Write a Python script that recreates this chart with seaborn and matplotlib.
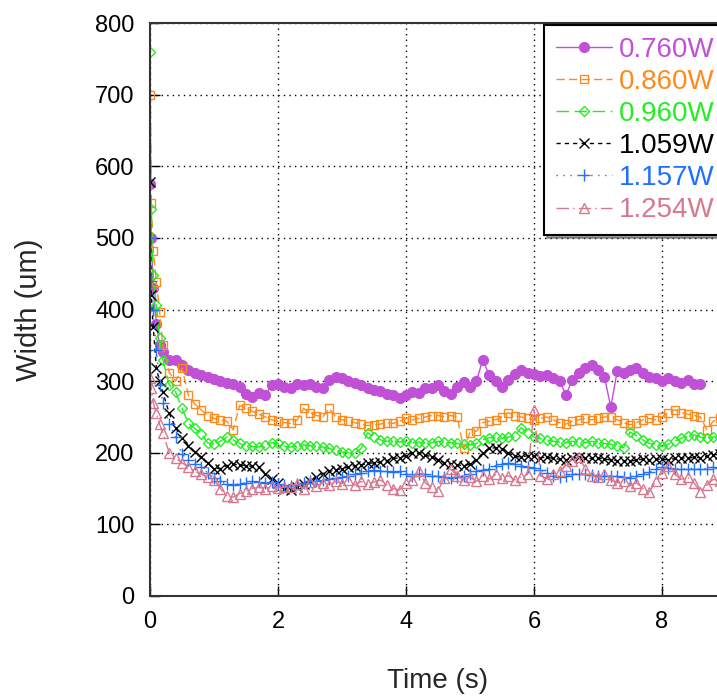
import numpy as np
import matplotlib
matplotlib.use("Agg")
import matplotlib.pyplot as plt
import seaborn as sns

# time stamps (s): a few early samples, then every 0.1 s
T_EARLY = [0.0, 0.02, 0.05, 0.1, 0.15, 0.2, 0.3]
T_MAIN = np.round(np.arange(0.4, 8.95, 0.1), 1)

LABELS = ["0.760W", "0.860W", "0.960W", "1.059W", "1.157W", "1.254W"]
COLORS = ["#c050d6", "#ff8a1c", "#22ee22", "#000000", "#2070ff", "#d8788f"]

# widths (um)
w_0760 = [575, 500, 430, 380, 350, 340, 330,
          330, 322, 316, 312, 308, 306, 303, 300, 298, 296,
          292, 282, 278, 284, 280, 295, 296, 292, 290, 296,
          294, 296, 292, 290, 302, 306, 304, 300, 298, 294,
          290, 288, 286, 282, 280, 276, 280, 285, 284, 290,
          290, 294, 286, 282, 292, 299, 292, 300, 330, 308,
          300, 292, 301, 310, 316, 312, 310, 307, 308, 304,
          300, 281, 302, 312, 318, 322, 316, 306, 264, 314,
          312, 316, 318, 312, 306, 304, 300, 304, 300, 298,
          302, 296, 296]
w_0860 = [700, 548, 482, 438, 397, 350, 312,
          300, 318, 280, 268, 260, 252, 248, 246, 244, 232,
          266, 262, 258, 254, 250, 246, 244, 242, 241, 246,
          262, 256, 252, 250, 262, 250, 246, 244, 242, 240,
          238, 239, 240, 242, 241, 244, 248, 246, 248, 250,
          252, 252, 250, 252, 250, 206, 228, 230, 242, 244,
          246, 250, 256, 252, 250, 248, 246, 248, 250, 246,
          242, 240, 244, 246, 248, 246, 248, 250, 250, 246,
          242, 239, 242, 246, 248, 246, 250, 256, 260, 256,
          254, 252, 250, 232, 244, 248]
w_0960 = [760, 540, 448, 406, 360, 330, 295,
          285, 262, 241, 234, 226, 214, 212, 216, 222, 218,
          213, 210, 209, 208, 211, 214, 213, 209, 208, 210,
          211, 210, 209, 208, 206, 204, 201, 200, 199, 206,
          228, 222, 218, 216, 217, 215, 216, 214, 215, 213,
          214, 216, 215, 214, 213, 212, 211, 213, 218, 221,
          222, 220, 222, 224, 235, 228, 222, 220, 218, 216,
          215, 214, 216, 215, 214, 216, 214, 213, 212, 210,
          207, 229, 224, 218, 213, 211, 209, 212, 216, 220,
          223, 225, 222, 220, 222, 222]
w_1059 = [578, 420, 376, 318, 300, 285, 255,
          235, 220, 210, 201, 194, 185, 178, 178, 182, 184,
          183, 182, 181, 180, 170, 163, 158, 150, 148, 152,
          156, 160, 166, 171, 174, 176, 178, 180, 182, 183,
          185, 186, 187, 189, 192, 193, 196, 200, 200, 197,
          194, 190, 186, 184, 183, 182, 184, 190, 200, 206,
          207, 205, 200, 195, 194, 196, 195, 193, 194, 192,
          191, 190, 192, 194, 193, 192, 193, 191, 190, 189,
          189, 188, 190, 191, 190, 191, 191, 190, 192, 193,
          192, 194, 193, 195, 197, 198]
w_1157 = [500, 440, 400, 343, 295, 270, 240,
          222, 198, 190, 184, 180, 172, 165, 160, 156, 155,
          157, 158, 160, 159, 158, 159, 157, 155, 154, 156,
          158, 160, 161, 162, 164, 165, 166, 168, 170, 172,
          174, 176, 175, 174, 173, 174, 170, 168, 171, 170,
          168, 167, 166, 165, 166, 168, 170, 174, 176, 178,
          182, 184, 186, 184, 182, 180, 179, 176, 172, 168,
          166, 168, 170, 171, 170, 169, 168, 167, 168, 167,
          166, 165, 167, 170, 173, 177, 180, 179, 178, 177,
          178, 178, 177, 178, 180, 179]
w_1254 = [305, 290, 270, 255, 240, 228, 200,
          192, 186, 180, 174, 170, 166, 162, 150, 140, 138,
          143, 146, 150, 152, 150, 153, 151, 152, 152, 156,
          150, 159, 154, 158, 155, 160, 157, 162, 155, 160,
          156, 159, 162, 155, 150, 148, 158, 162, 174, 158,
          152, 147, 165, 177, 168, 162, 166, 160, 168, 163,
          170, 165, 168, 162, 166, 170, 260, 168, 164, 170,
          175, 182, 188, 194, 178, 168, 166, 170, 162, 158,
          160, 154, 158, 150, 145, 160, 172, 182, 170, 163,
          166, 158, 145, 155, 163, 160]

SERIES = [w_0760, w_0860, w_0960, w_1059, w_1157, w_1254]
MARKERS = ["o", "s", "D", "x", "+", "^"]
DASHES = ["-", (0, (6, 3)), (0, (9, 4)), (0, (3, 3)), (0, (1, 4)), (0, (9, 3, 1, 3))]
FILLED = [True, False, False, True, True, False]
MSIZE = [7, 6, 5, 7, 8, 6.5]

sns.set_theme(style="white")
plt.rcParams["font.family"] = ["Liberation Sans", "DejaVu Sans"]

fig = plt.figure(figsize=(7.17, 6.98), dpi=100)
# x runs 0..9; the right edge of the axes falls just past the image edge
ax = fig.add_axes([150 / 717, 102 / 698, 576 / 717, 573 / 698])

for vals, lab, col, mk, ls, filled, ms in zip(SERIES, LABELS, COLORS, MARKERS,
                                              DASHES, FILLED, MSIZE):
    t = np.concatenate([T_EARLY, T_MAIN])[:len(vals)]
    sns.lineplot(x=t, y=vals, ax=ax, color=col, label=lab, marker=mk,
                 linestyle=ls, linewidth=1.0, markersize=ms,
                 markerfacecolor=col if filled else "none",
                 markeredgecolor=col, markeredgewidth=1.0,
                 sort=False, estimator=None)

ax.set_xlim(0, 9)
ax.set_ylim(0, 800)
ax.set_xticks([0, 2, 4, 6, 8])
ax.set_yticks(range(0, 801, 100))
ax.grid(True, color="black", linestyle=(0, (1, 3)), linewidth=1.0)
ax.tick_params(direction="in", length=7, width=1, labelsize=17, pad=11,
               colors="black", left=True, bottom=True)
for sp in ax.spines.values():
    sp.set_color("#333333")
    sp.set_linewidth(1.5)

ax.set_xlabel("Time (s)", fontsize=20)
ax.set_ylabel("Width (um)", fontsize=21)
ax.xaxis.set_label_coords(0.5, (596 - 668) / 573)
ax.yaxis.set_label_coords((43 - 150) / 576, 0.5)

leg = ax.legend(loc="upper right", bbox_to_anchor=(1, 1 - 2 / 573),
                fontsize=20, frameon=True, fancybox=False, shadow=True,
                edgecolor="black", handlelength=2.0, handletextpad=0.25,
                labelspacing=0.22, borderpad=0.42, borderaxespad=0)
leg.get_frame().set_linewidth(1.5)
for txt, col in zip(leg.get_texts(), COLORS):
    txt.set_color(col)

fig.savefig("out.png", dpi=100)
